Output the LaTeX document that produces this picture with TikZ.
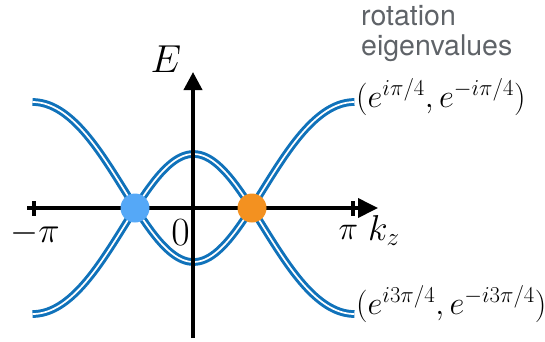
\documentclass[tikz,border=0pt]{standalone}
\usepackage{fontspec}
\newfontfamily\labelsf{TeX Gyre Heros}
\usetikzlibrary{arrows.meta}
\DeclareFontShape{OML}{cmm}{m}{it}{<-6>cmmi5<6-7>cmmi6<7-8>cmmi7<8-9>cmmi8<9-10>cmmi9<10-12>cmmi10<12->cmmi12}{}
\DeclareFontShape{OMS}{cmsy}{m}{n}{<-6>cmsy5<6-7>cmsy6<7-8>cmsy7<8-9>cmsy8<9-10>cmsy9<10->cmsy10}{}
\DeclareFontShape{OT1}{cmr}{m}{n}{<-6>cmr5<6-7>cmr6<7-8>cmr7<8-9>cmr8<9-10>cmr9<10-12>cmr10<12-17>cmr12<17->cmr17}{}
\definecolor{bandblue}{RGB}{16,114,186}
\definecolor{dotblue}{RGB}{85,168,247}
\definecolor{dotorange}{RGB}{243,145,32}
\definecolor{notegray}{RGB}{95,99,104}
\begin{document}
\begin{tikzpicture}[x=1pt,y=-1pt,
  band/.style={draw=bandblue, line width=3pt, double=white, double distance=1.7pt},
  axisline/.style={line width=3.8pt, black},
  tickline/.style={line width=4.5pt, black},
  crossdot/.style={circle, minimum size=29pt, inner sep=0pt, draw=none},
  mathlab/.style={inner sep=0pt, font=\fontsize{#1}{#1}\selectfont},
  note/.style={inner sep=0pt, anchor=base west, text=notegray, font=\labelsf\fontsize{28.5}{30}\selectfont}
]
\useasboundingbox (0,0) rectangle (545,341);

% bands
\draw[band] plot[domain=-1:1, samples=121, smooth]
  ({193.5+161*\x}, {208-(30.92-80*cos(180*\x)-4.92*cos(360*\x))});
\draw[band] plot[domain=-1:1, samples=121, smooth]
  ({193.5+161*\x}, {208+(30.92-80*cos(180*\x)-4.92*cos(360*\x))});

% axes
\coordinate (xl) at (27,208);
\coordinate (xr) at (378,208);
\coordinate (yb) at (193,338);
\coordinate (yt) at (193,72);
\draw[axisline, -{Triangle[length=20pt,width=19pt]}] (xl) -- (xr);
\draw[axisline, -{Triangle[length=18pt,width=18pt]}] (yb) -- (yt);

% ticks
\coordinate (tla) at (34,201);
\coordinate (tlb) at (34,216);
\coordinate (tra) at (353,201);
\coordinate (trb) at (353,216);
\draw[tickline] (tla) -- (tlb);
\draw[tickline] (tra) -- (trb);

% crossing points
\node[crossdot, fill=dotblue] (cb) at (135,208) {};
\node[crossdot, fill=dotorange] (co) at (252,208) {};

% axis labels
\node[mathlab=39, anchor=base] (elab) at (166,72) {$E$};
\node[mathlab=36, anchor=base west] (klab) at (368,240) {$k_z$};
\node[mathlab=36, anchor=base] (mpi) at (35,242) {$-\pi$};
\node[mathlab=33, anchor=base] (ppi) at (348.5,239) {$\pi$};
\node[mathlab=40, anchor=base] (zero) at (180.5,245) {$0$};

% band labels
\node[mathlab=32.5, anchor=base west] (lab1) at (356,107) {$(e^{i\pi/4},e^{-i\pi/4})$};
\node[mathlab=32.5, anchor=base west] (lab2) at (356,314) {$(e^{i3\pi/4},e^{-i3\pi/4})$};

% note
\node[note] (n1) at (361,25) {rotation};
\node[note] (n2) at (361,55) {eigenvalues};
\end{tikzpicture}
\end{document}
